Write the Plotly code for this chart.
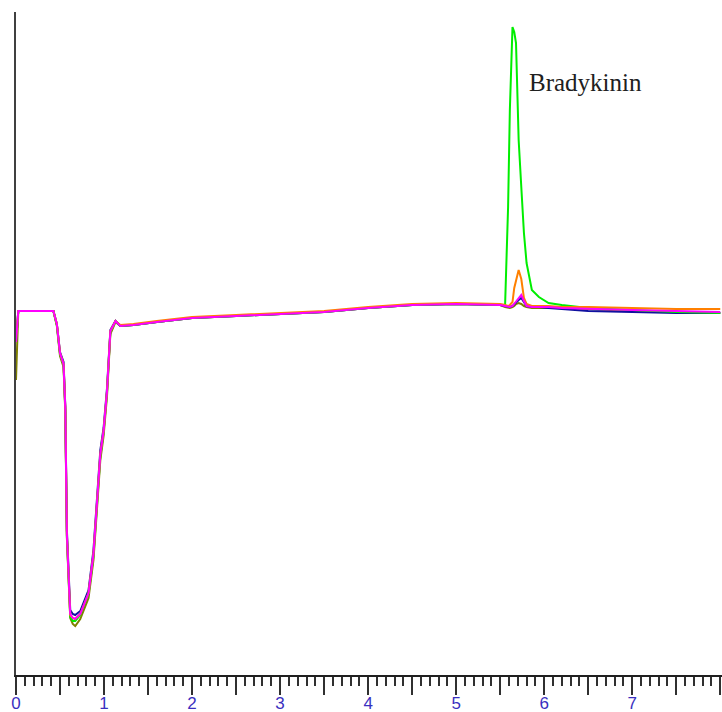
import plotly.graph_objects as go

# Retention time (min)
time_min = [0.0, 0.026, 0.1, 0.2, 0.3, 0.425, 0.464, 0.50, 0.54, 0.56, 0.578, 0.616, 0.645,
            0.673, 0.73, 0.824, 0.88, 0.92, 0.958, 0.995, 1.034, 1.072, 1.13, 1.186, 1.334,
            1.6, 2.0, 2.5, 3.0, 3.5, 4.0, 4.5, 5.0, 5.5, 5.556, 5.59, 5.61, 5.64, 5.66, 5.68,
            5.71, 5.74, 5.77, 5.80, 5.86, 5.94, 6.05, 6.2, 6.5, 7.0, 7.5, 8.0]

# Detector signal (arbitrary units, baseline ~0)
sig_olive = [-68, 1, 1, 1, 1, 1, -14, -44, -55, -100, -226, -306, -312,
             -314, -307, -286, -248, -192, -148, -124, -84, -22, -10, -14, -13,
             -10, -6, -4, -2, 0, 4, 7, 8, 7, 5, 4, 4, 5, 6, 8,
             9, 8, 6, 5, 4, 4, 4, 4, 3, 1, 0, -1]
sig_blue = [-30, 1, 1, 1, 1, 1, -12, -40, -50, -94, -218, -298, -302,
            -303, -299, -278, -238, -182, -138, -116, -76, -18, -9, -14, -13,
            -10, -6, -4, -2, 0, 4, 7, 8, 7, 6, 5, 5, 6, 8, 10,
            12, 14, 10, 6, 5, 5, 4, 3, 1, 0, -1, -1]
sig_green = [-30, 1, 1, 1, 1, 1, -13, -42, -53, -98, -224, -305, -309,
             -309, -303, -282, -244, -188, -144, -120, -80, -20, -9, -14, -13,
             -10, -6, -4, -2, 0, 4, 7, 8, 7, 7, 105, 202, 285, 280, 269,
             172, 125, 79, 49, 22, 15, 9, 7, 4, 2, 0, -1]
sig_orange = [-30, 1, 1, 1, 1, 1, -12, -41, -52, -96, -222, -303, -306,
              -307, -302, -281, -242, -186, -142, -119, -79, -19, -9, -13, -12,
              -9, -5, -3, -1, 1, 5, 8, 9, 8, 7, 6, 7, 10, 24, 32,
              42, 33, 14, 8, 6, 6, 6, 5, 5, 4, 3, 3]
sig_magenta = [-30, 1, 1, 1, 1, 1, -12, -41, -52, -96, -222, -302, -306,
               -307, -302, -281, -242, -186, -142, -119, -79, -19, -9, -14, -13,
               -10, -6, -4, -2, 0, 4, 7, 8, 7, 6, 5, 5, 6, 8, 10,
               14, 17, 11, 6, 5, 5, 5, 4, 3, 2, 1, 0]

series = [
    ("olive", sig_olive, "#808000"),
    ("blue", sig_blue, "#1010a0"),
    ("green", sig_green, "#00ee00"),
    ("orange", sig_orange, "#ff8000"),
    ("magenta", sig_magenta, "#ff00ff"),
]

x_tickvals = [i * 0.5 for i in range(17)]
x_ticktext = [str(int(v)) if v == int(v) else "" for v in x_tickvals]

fig = go.Figure()
for name, ys, col in series:
    fig.add_trace(go.Scatter(x=time_min, y=ys, mode="lines", name=name,
                             line=dict(color=col, width=2), hoverinfo="skip"))

fig.add_annotation(x=5.81, y=230, text="Bradykinin", showarrow=False,
                   xanchor="left", yanchor="middle",
                   font=dict(family="Liberation Serif", size=25, color="#202020"))

fig.update_layout(
    width=722, height=712,
    margin=dict(l=16, r=0, t=12, b=37),
    paper_bgcolor="white", plot_bgcolor="white",
    showlegend=False,
    xaxis=dict(range=[0, 8.02], showgrid=False, zeroline=False, automargin=False,
               showline=True, linecolor="#202020", linewidth=2,
               ticks="outside", ticklen=18, tickwidth=2, tickcolor="#303030",
               tickvals=x_tickvals, ticktext=x_ticktext, ticklabelstandoff=-6,
               tickfont=dict(family="Liberation Sans", size=17, color="#3a2fc0"),
               minor=dict(dtick=0.1, tick0=0, ticks="outside", ticklen=9,
                          tickwidth=2, tickcolor="#303030", showgrid=False)),
    yaxis=dict(range=[-363, 300], showgrid=False, zeroline=False, automargin=False,
               showline=True, linecolor="#404040", linewidth=2,
               ticks="", showticklabels=False),
)

fig.write_html("out.html")
